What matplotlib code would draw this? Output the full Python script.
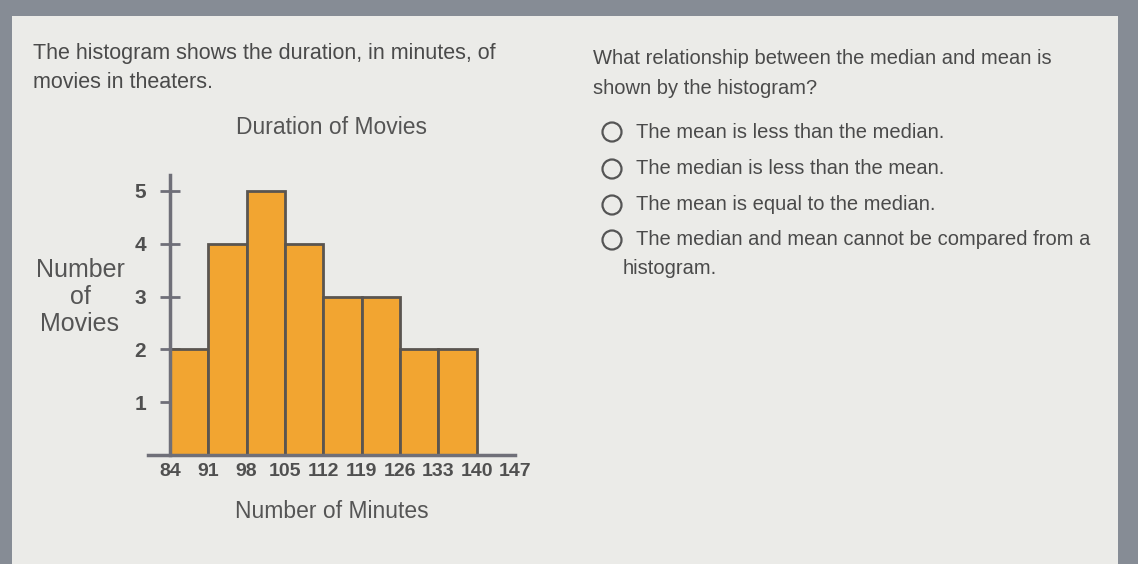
import matplotlib
matplotlib.use("Agg")
import matplotlib.pyplot as plt
from matplotlib.patches import Rectangle, Ellipse

# ---- data ----
bin_edges = [84, 91, 98, 105, 112, 119, 126, 133, 140, 147]
counts = [2, 4, 5, 4, 3, 3, 2, 2]
y_ticks = [1, 2, 3, 4, 5]
x_tick_labels = [str(v) for v in bin_edges]

title = "Duration of Movies"
x_label = "Number of Minutes"
y_label = "Number\nof\nMovies"
intro_lines = ["The histogram shows the duration, in minutes, of", "movies in theaters."]
question_lines = ["What relationship between the median and mean is", "shown by the histogram?"]
options = ["The mean is less than the median.",
           "The median is less than the mean.",
           "The mean is equal to the median.",
           "The median and mean cannot be compared from a"]
option_cont = "histogram."

plt.rcParams['font.family'] = ['Liberation Sans', 'DejaVu Sans']

W, H = 1138, 564
fig = plt.figure(figsize=(W / 100, H / 100), dpi=100)
fig.patch.set_facecolor('#868c95')

# screen panel
fig.patches.append(Rectangle((12 / W, 0), (1118 - 12) / W, (H - 16) / H,
                             transform=fig.transFigure, facecolor='#ebebe8',
                             edgecolor='none', zorder=-5))

def fx(px):
    return px / W

def fy(py):
    return 1 - py / H

txt_color = '#4a4a4a'
for i, line in enumerate(intro_lines):
    fig.text(fx(33), fy(53 + 30 * i), line, fontsize=15.5, color=txt_color, va='center', ha='left')
for i, line in enumerate(question_lines):
    fig.text(fx(593), fy(59 + 29 * i), line, fontsize=14.5, color=txt_color, va='center', ha='left')

opt_y = [132, 169, 205, 240]
for yy, opt in zip(opt_y, options):
    fig.patches.append(Ellipse((fx(612), fy(yy)), 19 / W, 19 / H, transform=fig.transFigure,
                               facecolor='none', edgecolor='#555555', linewidth=1.6, zorder=2))
    fig.text(fx(636), fy(yy), opt, fontsize=14.5, color=txt_color, va='center', ha='left')
fig.text(fx(623), fy(269), option_cont, fontsize=14.5, color=txt_color, va='center', ha='left')

# ---- histogram axes ----
x0_px, x1_px = 148, 515
y0_px, y1_px = 455, 175
xmin, xmax = 80, 147
ymin, ymax = 0, 5.3
ax = fig.add_axes([fx(x0_px), fy(y0_px), (x1_px - x0_px) / W, (y0_px - y1_px) / H])
ax.set_facecolor('none')
ax.set_xlim(xmin, xmax)
ax.set_ylim(ymin, ymax)

lefts = bin_edges[:len(counts)]
widths = [bin_edges[i + 1] - bin_edges[i] for i in range(len(counts))]
ax.bar(lefts, counts, width=widths, align='edge', color='#f2a531',
       edgecolor='#5a5550', linewidth=2, zorder=2)

axis_color = '#6f6f78'
for s in ['top', 'right']:
    ax.spines[s].set_visible(False)
ax.spines['left'].set_position(('data', 84))
ax.spines['left'].set_color(axis_color)
ax.spines['left'].set_linewidth(2.5)
ax.spines['bottom'].set_color(axis_color)
ax.spines['bottom'].set_linewidth(2.5)
ax.spines['bottom'].set_zorder(3)

ax.set_yticks(y_ticks)
ax.set_yticklabels([str(v) for v in y_ticks])
ax.tick_params(axis='y', direction='inout', length=14, width=2, color=axis_color,
               labelsize=15, labelcolor='#505050', pad=10)
for lbl in ax.get_yticklabels():
    lbl.set_fontweight('bold')
ax.set_xticks(bin_edges)
ax.set_xticklabels(x_tick_labels)
ax.tick_params(axis='x', length=0, labelsize=14, labelcolor='#505050', pad=6)
for lbl in ax.get_xticklabels():
    lbl.set_fontweight('bold')

fig.text(fx(332), fy(128), title, fontsize=16.5, color='#555555', ha='center', va='center')
fig.text(fx(332), fy(512), x_label, fontsize=16.5, color='#555555', ha='center', va='center')
fig.text(fx(80), fy(297), y_label, fontsize=18, color='#555555', ha='center', va='center',
         linespacing=1.15)

fig.savefig('out.png', dpi=100, facecolor=fig.get_facecolor())
